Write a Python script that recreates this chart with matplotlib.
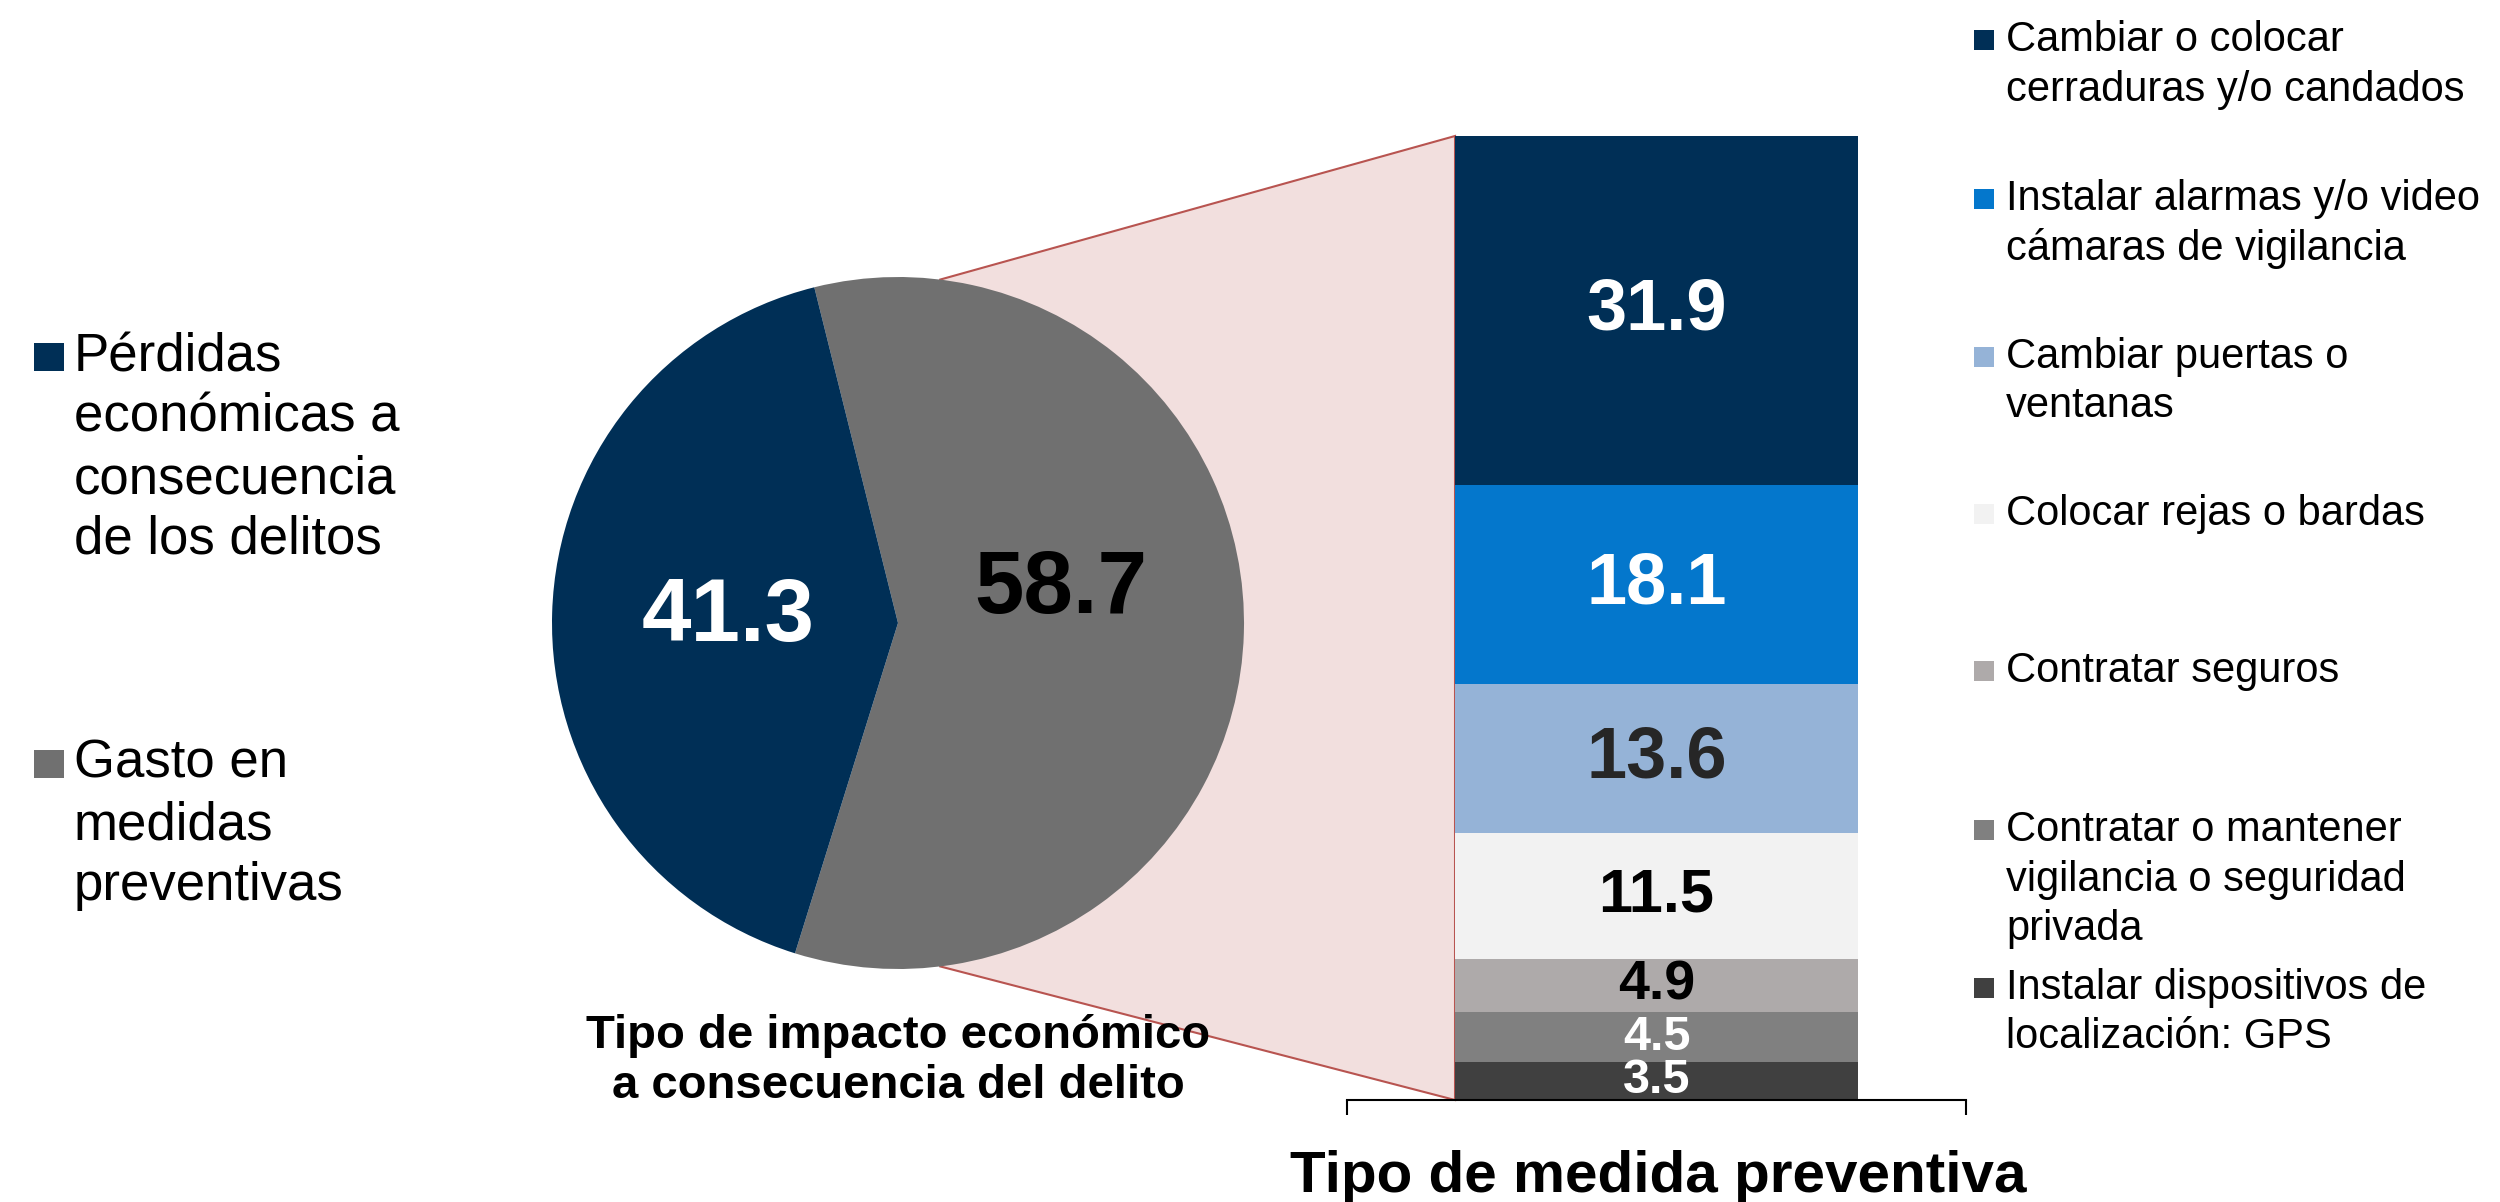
import matplotlib
matplotlib.use("Agg")
import matplotlib.pyplot as plt
from matplotlib.patches import Rectangle, Polygon
import numpy as np

plt.rcParams['font.family'] = ['Liberation Sans', 'DejaVu Sans']

# pie: type of economic impact
impact_labels = ['Pérdidas\neconómicas a\nconsecuencia\nde los delitos',
                 'Gasto en\nmedidas\npreventivas']
impact_values = [41.3, 58.7]
impact_colors = ['#002F56', '#707070']
impact_text_colors = ['white', 'black']

# bar: type of preventive measure (top to bottom)
measure_labels = ['Cambiar o colocar\ncerraduras y/o candados',
                  'Instalar alarmas y/o video\ncámaras de vigilancia',
                  'Cambiar puertas o\nventanas',
                  'Colocar rejas o bardas',
                  'Contratar seguros',
                  'Contratar o mantener\nvigilancia o seguridad\nprivada',
                  'Instalar dispositivos de\nlocalización: GPS']
measure_values = [31.9, 18.1, 13.6, 11.5, 4.9, 4.5, 3.5]
measure_colors = ['#002F56', '#0477CC', '#95B3D7', '#F2F2F2', '#AEAAAA', '#808080', '#404040']
measure_text_colors = ['white', 'white', '#262626', 'black', 'black', 'white', 'white']
measure_font_sizes = [52, 52, 52, 44, 40, 35, 35]

W, H = 2500, 1202
fig = plt.figure(figsize=(W / 100, H / 100), dpi=100)


def fx(px):
    return px / W


def fy(py):
    return 1 - py / H


# ---- pie ----
cx, cy, r = 898, 623, 346
ax_pie = fig.add_axes([fx(cx - r), fy(cy + r), 2 * r / W, 2 * r / H])
ax_pie.patch.set_visible(False)
split_angle = 104.0  # upper boundary between the two slices
start = split_angle - 3.6 * impact_values[1]  # gray slice first, navy on the left
wedges, _ = ax_pie.pie(impact_values[::-1], colors=impact_colors[::-1], startangle=start,
                       radius=1, wedgeprops=dict(linewidth=0))
ax_pie.set_xlim(-1, 1)
ax_pie.set_ylim(-1, 1)
ax_pie.set_aspect('auto')
label_offsets = [(0.0, 0.0), (-0.02, 0.11)]
for w, val, tc, off in zip(wedges[::-1], impact_values, impact_text_colors, label_offsets):
    mid = np.deg2rad((w.theta1 + w.theta2) / 2)
    ax_pie.text(0.49 * np.cos(mid) + off[0], 0.49 * np.sin(mid) + off[1], f'{val:.1f}',
                ha='center', va='center', color=tc, fontsize=64, fontweight='bold')

fig.text(fx(cx), fy(1061), 'Tipo de impacto económico\na consecuencia del delito',
         ha='center', va='center', fontsize=34, fontweight='bold', linespacing=1.2)

# ---- stacked bar ----
bx0, bx1, by0, by1 = 1347, 1966, 1100, 136
ax_bar = fig.add_axes([fx(bx0), fy(by0), (bx1 - bx0) / W, (by0 - by1) / H])
ax_bar.patch.set_visible(False)
total = sum(measure_values)
bar_w = 0.651
bottom = 0
for val, col, tc, fs in list(zip(measure_values, measure_colors, measure_text_colors,
                                 measure_font_sizes))[::-1]:
    ax_bar.bar(0, val, bottom=bottom, width=bar_w, color=col, linewidth=0)
    ax_bar.text(0, bottom + val / 2, f'{val:.1f}', ha='center', va='center',
                color=tc, fontsize=fs, fontweight='bold')
    bottom += val
ax_bar.set_xlim(-0.5, 0.5)
ax_bar.set_ylim(0, total)
for s in ['top', 'left', 'right']:
    ax_bar.spines[s].set_visible(False)
ax_bar.spines['bottom'].set_linewidth(1.5)
ax_bar.set_yticks([])
ax_bar.set_xticks([-0.5, 0.5])
ax_bar.set_xticklabels([])
ax_bar.tick_params(axis='x', length=11, width=1.5, direction='out')

fig.text(fx(1658), fy(1177), 'Tipo de medida preventiva', ha='center', va='center',
         fontsize=42, fontweight='bold')

# ---- connector between pie and bar ----
inv = fig.transFigure.inverted()
ang = np.deg2rad(83)
p_top = inv.transform(ax_pie.transData.transform((np.cos(ang), np.sin(ang))))
p_bot = inv.transform(ax_pie.transData.transform((np.cos(ang), -np.sin(ang))))
b_top = inv.transform(ax_bar.transData.transform((-bar_w / 2, total)))
b_bot = inv.transform(ax_bar.transData.transform((-bar_w / 2, 0)))
conn = Polygon([p_top, b_top, b_bot, p_bot], closed=True, transform=fig.transFigure,
               facecolor='#F2DFDE', edgecolor='#B85450', linewidth=1.5, zorder=-1)
fig.add_artist(conn)

# ---- left legend ----
left_y = [357, 764]
for lab, col, y0 in zip(impact_labels, impact_colors, left_y):
    fig.add_artist(Rectangle((fx(34), fy(y0 + 14)), 30 / W, 28 / H, transform=fig.transFigure,
                             facecolor=col, edgecolor='none'))
    for i, line in enumerate(lab.split('\n')):
        fig.text(fx(74), fy(y0 + i * 61), line, ha='left', va='center', fontsize=38)

# ---- right legend ----
right_y = [40, 199, 357, 514, 671, 830, 988]
for lab, col, y0 in zip(measure_labels, measure_colors, right_y):
    fig.add_artist(Rectangle((fx(1974), fy(y0 + 10)), 20 / W, 20 / H, transform=fig.transFigure,
                             facecolor=col, edgecolor='none'))
    for i, line in enumerate(lab.split('\n')):
        fig.text(fx(2006), fy(y0 + i * 49.5), line, ha='left', va='center', fontsize=30)

fig.savefig('out.png', dpi=100)
